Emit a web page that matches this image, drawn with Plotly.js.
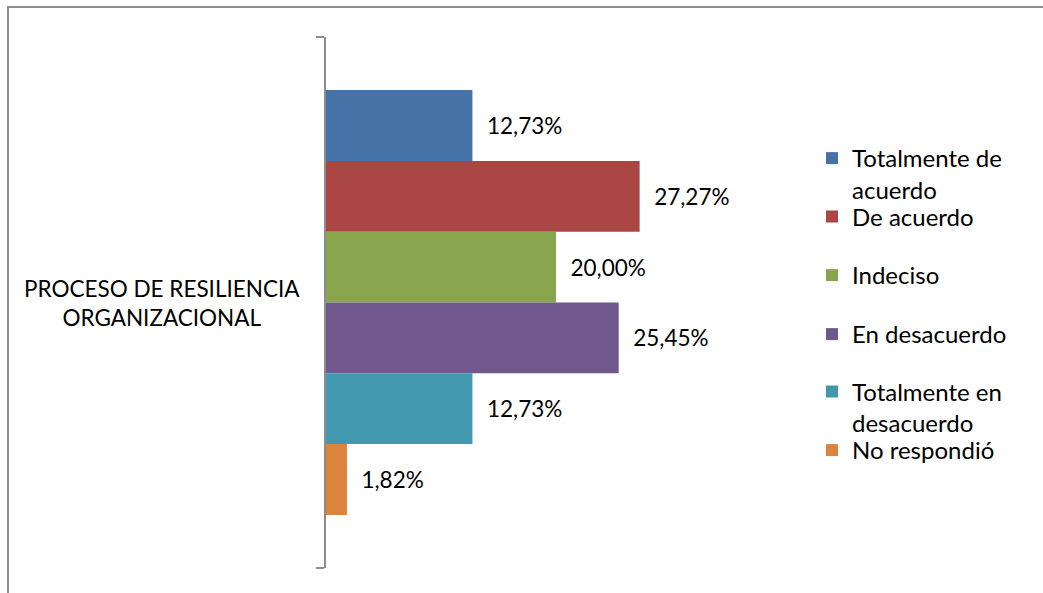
<!DOCTYPE html>
<html>
<head>
<meta charset="utf-8">
<script src="https://cdn.plot.ly/plotly-3.0.1.min.js"></script>
<style>
  html, body { margin: 0; padding: 0; background: #ffffff; }
  #chart { width: 1043px; height: 593px; }
</style>
</head>
<body>
<div id="chart"></div>
<script>
// ---- Data ----
const categories = ['PROCESO DE RESILIENCIA ORGANIZACIONAL'];
const categoryLabel = 'PROCESO DE RESILIENCIA<br>ORGANIZACIONAL';
const seriesNames = ['Totalmente de acuerdo', 'De acuerdo', 'Indeciso', 'En desacuerdo', 'Totalmente en desacuerdo', 'No respondió'];
const legendLabels = ['Totalmente de<br>acuerdo', 'De acuerdo', 'Indeciso', 'En desacuerdo', 'Totalmente en<br>desacuerdo', 'No respondió'];
const values = [12.73, 27.27, 20.00, 25.45, 12.73, 1.82];

// ---- Styles ----
const colors = ['#4572A7', '#AA4643', '#89A54E', '#71588F', '#4198AF', '#DB843D'];
const FONT = 'Lato, "Open Sans", sans-serif';
const legendIds = ['legend', 'legend2', 'legend3', 'legend4', 'legend5', 'legend6'];

const traces = seriesNames.map((name, i) => ({
  type: 'bar',
  orientation: 'h',
  name: legendLabels[i],
  y: categories,
  x: [values[i]],
  marker: { color: colors[i], line: { width: 0 } },
  texttemplate: '\u00a0\u00a0%{x:.2f}%',
  textposition: 'outside',
  constraintext: 'none',
  cliponaxis: false,
  textfont: { family: FONT, size: 22.5, color: '#000000' },
  hoverinfo: 'skip',
  legend: legendIds[i]
}));

// plot area: x 326..786 px, y 37..568 px
const PX_L = 326, PX_W = 460, PX_B = 568, PX_H = 531;
const px2x = p => (p - PX_L) / PX_W;
const px2y = p => (PX_B - p) / PX_H;

const legendTopsPx = [136, 194.5, 253, 312, 369.5, 428];
const layout = {
  width: 1043,
  height: 593,
  autosize: false,
  margin: { l: 326, r: 257, t: 37, b: 25, pad: 0 },
  paper_bgcolor: '#ffffff',
  plot_bgcolor: '#ffffff',
  separators: ',.',
  barmode: 'group',
  bargap: 0.2,
  bargroupgap: 0,
  font: { family: FONT, size: 22.5, color: '#000000' },
  xaxis: {
    range: [0, 40],
    visible: false,
    fixedrange: true
  },
  yaxis: {
    type: 'category',
    autorange: 'reversed',
    showline: true,
    linecolor: '#8c8c8c',
    linewidth: 2,
    ticks: 'outside',
    tickson: 'boundaries',
    ticklen: 8,
    tickwidth: 2,
    tickcolor: '#8c8c8c',
    showticklabels: false,
    showgrid: false,
    zeroline: false,
    fixedrange: true
  },
  annotations: [{
    text: categoryLabel,
    xref: 'paper', yref: 'paper',
    x: px2x(162), y: 0.5,
    xanchor: 'center', yanchor: 'middle',
    align: 'center',
    showarrow: false,
    font: { family: FONT, size: 22.5, color: '#000000' }
  }],
  shapes: [{
    type: 'rect',
    xref: 'paper', yref: 'paper',
    x0: px2x(8), x1: px2x(1060),
    y0: px2y(620), y1: px2y(7),
    line: { color: '#8c8c8c', width: 2 },
    fillcolor: 'rgba(0,0,0,0)',
    layer: 'below'
  }],
  showlegend: true
};

legendIds.forEach((id, i) => {
  layout[id] = {
    x: px2x(812),
    xanchor: 'left',
    y: px2y(legendTopsPx[i]),
    yanchor: 'top',
    valign: 'top',
    bgcolor: 'rgba(0,0,0,0)',
    borderwidth: 0,
    font: { family: FONT, size: 24, color: '#000000' }
  };
});

Plotly.newPlot('chart', traces, layout, { staticPlot: true, displayModeBar: false });
</script>
</body>
</html>
